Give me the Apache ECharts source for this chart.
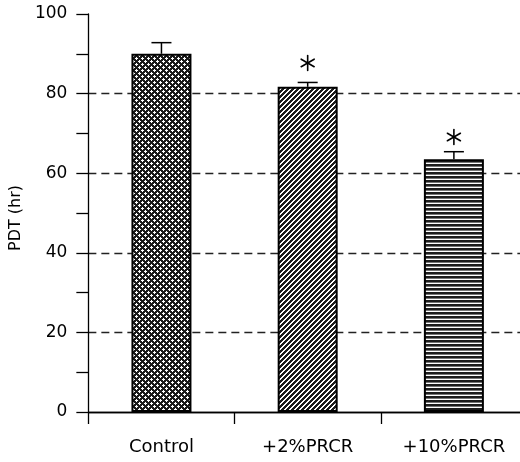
<!DOCTYPE html>
<html>
<head>
<meta charset="utf-8">
<script src="https://cdn.jsdelivr.net/npm/echarts@6/dist/echarts.min.js"></script>
<style>
  html, body { margin: 0; padding: 0; background: #fff; overflow: hidden; }
  /* plot runs a few px past the right edge of the window, like the original */
  #chart { width: 527px; height: 462px; }
</style>
</head>
<body>
<div id="chart"></div>
<script>
var groups = ['Control', '+2%PRCR', '+10%PRCR'];
var pdt = [90, 81.7, 63.5];
var sem = [2.8, 1.1, 1.9];
// height (in hr) of the significance asterisk, null = none
var starAt = [null, 87.7, 69.1];
var yTicks = [0, 20, 40, 60, 80, 100];

// fill patterns drawn on little canvases
function makeTile(w, h, draw) {
  var c = document.createElement('canvas');
  c.width = w;
  c.height = h;
  var ctx = c.getContext('2d');
  ctx.fillStyle = '#fff';
  ctx.fillRect(0, 0, w, h);
  draw(ctx);
  return c;
}

var crossTile = makeTile(6, 6, function (ctx) {
  ctx.fillStyle = '#1a1a1a';
  ctx.fillRect(0, 0, 6, 6);
  ctx.fillStyle = '#fff';
  [[1, 1], [4, 4]].forEach(function (p) {
    ctx.fillRect(p[0] - 1, p[1], 3, 1);
    ctx.fillRect(p[0], p[1] - 1, 1, 3);
  });
});

var diagTile = makeTile(5, 5, function (ctx) {
  ctx.fillStyle = '#1c1c1c';
  for (var x = 0; x < 5; x++) {
    for (var y = 0; y < 5; y++) {
      if ((x + y) % 5 < 3) ctx.fillRect(x, y, 1, 1);
    }
  }
});

var lineTile = makeTile(4, 4, function (ctx) {
  ctx.fillStyle = '#1c1c1c';
  ctx.fillRect(0, 0, 4, 2);
  ctx.fillStyle = '#777';
  ctx.fillRect(0, 2, 4, 1);
});

var fills = [crossTile, diagTile, lineTile];

var font = 'DejaVu Sans';

function starLines(cx, cy, r) {
  var out = [];
  [90, 30, 150].forEach(function (deg) {
    var a = deg * Math.PI / 180;
    var dx = Math.cos(a) * r, dy = Math.sin(a) * r;
    out.push({
      type: 'line',
      shape: { x1: cx - dx, y1: cy - dy, x2: cx + dx, y2: cy + dy },
      style: { stroke: '#000', lineWidth: 1.6, lineCap: 'round' }
    });
  });
  return out;
}

var chart = echarts.init(document.getElementById('chart'));
var option = {
  animation: false,
  grid: { left: 86, right: 0, top: 14, bottom: 50 },
  xAxis: [
    {
      type: 'category',
      data: groups,
      boundaryGap: true,
      axisLine: { lineStyle: { color: '#000', width: 1.3 } },
      axisTick: { show: true, length: 12, alignWithLabel: false, lineStyle: { color: '#000', width: 1.3 } },
      axisLabel: { color: '#000', fontFamily: font, fontSize: 18, margin: 26 }
    },
    {
      type: 'category',
      data: groups,
      position: 'top',
      axisLine: { lineStyle: { color: '#000', width: 1.3 } },
      axisTick: { show: false },
      axisLabel: { show: false }
    }
  ],
  yAxis: [
    {
      type: 'value',
      min: 0,
      max: 100,
      interval: 10,
      name: 'PDT (hr)',
      nameLocation: 'middle',
      nameGap: 62,
      nameTextStyle: { color: '#000', fontFamily: font, fontSize: 16, padding: [0, 0, 0, -10] },
      axisLine: { show: true, lineStyle: { color: '#000', width: 1.3 } },
      axisTick: { show: true, length: 12, lineStyle: { color: '#000', width: 1.3 } },
      axisLabel: {
        color: '#000',
        fontFamily: font,
        fontSize: 17,
        margin: 21,
        formatter: function (v) { return yTicks.indexOf(v) >= 0 ? String(v) : ''; }
      },
      splitLine: { show: false }
    },
    {
      type: 'value',
      min: 0,
      max: 100,
      interval: 20,
      position: 'left',
      axisLine: { show: false },
      axisTick: { show: false },
      axisLabel: { show: false },
      splitLine: {
        show: true,
        showMinLine: false,
        showMaxLine: false,
        lineStyle: { color: '#222', width: 1.3, type: [8, 5] }
      }
    }
  ],
  series: [
    {
      type: 'bar',
      barWidth: 60,
      z: 3,
      data: pdt.map(function (v, i) {
        return {
          value: v,
          itemStyle: {
            color: { image: fills[i], repeat: 'repeat' },
            borderColor: '#000',
            borderWidth: 2
          }
        };
      })
    },
    {
      type: 'custom',
      z: 4,
      data: pdt.map(function (v, i) { return [i, v, sem[i]]; }),
      renderItem: function (params, api) {
        var i = api.value(0);
        var v = api.value(1);
        var e = api.value(2);
        var base = api.coord([i, v]);
        var top = api.coord([i, v + e]);
        var children = [
          { type: 'line', shape: { x1: top[0], y1: base[1], x2: top[0], y2: top[1] }, style: { stroke: '#000', lineWidth: 1.5 } },
          { type: 'line', shape: { x1: top[0] - 10, y1: top[1], x2: top[0] + 10, y2: top[1] }, style: { stroke: '#000', lineWidth: 1.5 } }
        ];
        var s = starAt[params.dataIndex];
        if (s != null) {
          var c = api.coord([i, s]);
          children = children.concat(starLines(c[0], c[1], 7.5));
        }
        return { type: 'group', children: children };
      }
    }
  ]
};
chart.setOption(option);
</script>
</body>
</html>
